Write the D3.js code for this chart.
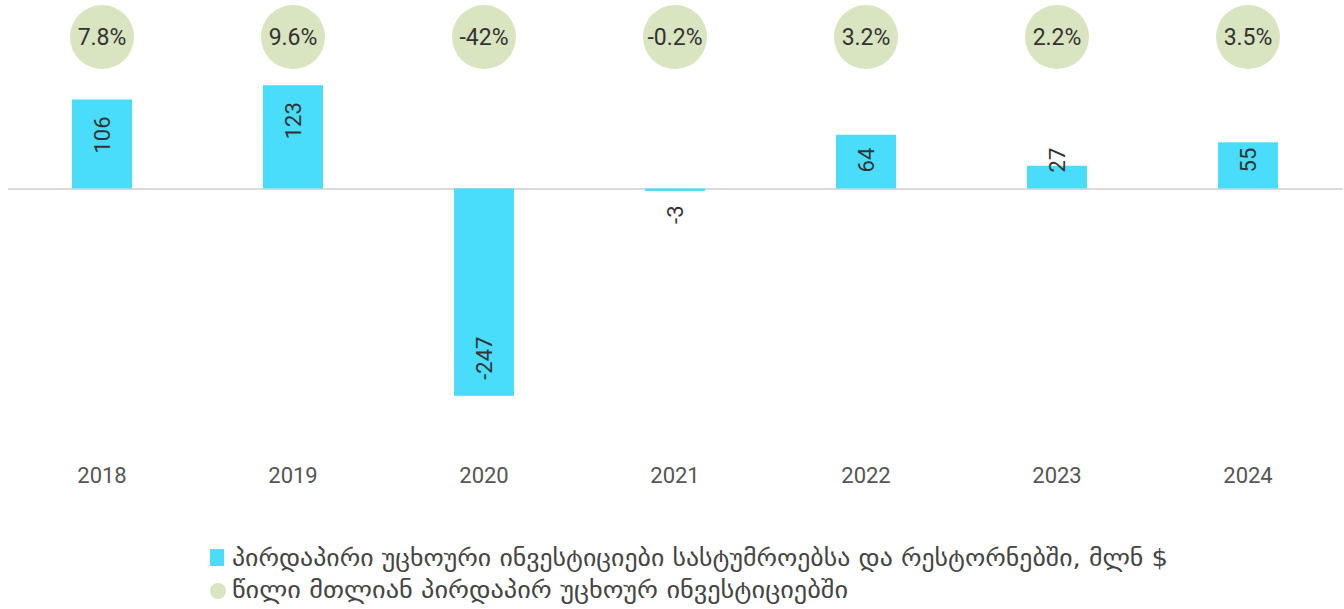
<!DOCTYPE html>
<html><head><meta charset="utf-8">
<script src="https://cdn.jsdelivr.net/npm/d3@7"></script>
<style>
html,body{margin:0;padding:0;background:#fff;}
svg{display:block;}
</style></head>
<body>
<svg id="c" width="1344" height="609"></svg>
<script>
const years = ["2018","2019","2020","2021","2022","2023","2024"];
const fdiValues = [106, 123, -247, -3, 64, 27, 55];
const shareLabels = ["7.8%","9.6%","-42%","-0.2%","3.2%","2.2%","3.5%"];
const legendLabels = [
  "პირდაპირი უცხოური ინვესტიციები სასტუმროებსა და რესტორნებში, მლნ $",
  "წილი მთლიან პირდაპირ უცხოურ ინვესტიციებში"
];

const svg = d3.select("#c");
const numFont = "Roboto, 'Noto Sans', sans-serif";
const geoFont = "'DejaVu Sans', sans-serif";
const barColor = "#4adcfb";
const bubbleColor = "#d9e4c0";

const x = d3.scaleBand().domain(years).range([6.5, 1343.5]);
const y = d3.scaleLinear().domain([-247, 123]).range([395.8, 85.2]);
const zero = y(0);
const bw = 60;

// zero line
svg.append("line").attr("x1", 8).attr("x2", 1343).attr("y1", zero + 0.5).attr("y2", zero + 0.5)
  .attr("stroke", "#d9d9d9").attr("stroke-width", 2);

// bars
svg.selectAll("rect.bar").data(fdiValues).enter().append("rect")
  .attr("class", "bar")
  .attr("x", (d, i) => x(years[i]) + x.bandwidth() / 2 - bw / 2)
  .attr("width", bw)
  .attr("y", d => Math.min(y(d), zero))
  .attr("height", d => Math.max(Math.abs(y(d) - zero), 2))
  .attr("fill", barColor);

// bar labels (rotated)
const labels = svg.selectAll("text.val").data(fdiValues).enter().append("text")
  .attr("class", "val")
  .attr("font-family", numFont).attr("font-size", 22).attr("fill", "#333")
  .attr("text-anchor", "middle").attr("dominant-baseline", "central")
  .text(d => d);
labels.each(function (d, i) {
  const len = this.getComputedTextLength();
  const cx = x(years[i]) + x.bandwidth() / 2;
  let cy;
  if (d >= 0) {
    cy = Math.min(y(d) + 17 + len / 2, zero - 16 - len / 2);
  } else {
    cy = Math.max(y(d) - 16 - len / 2, zero + 17 + len / 2);
  }
  d3.select(this).attr("transform", `translate(${cx},${cy}) rotate(-90)`);
});

// bubbles
const bub = svg.selectAll("g.bub").data(shareLabels).enter().append("g")
  .attr("transform", (d, i) => `translate(${x(years[i]) + x.bandwidth() / 2},37)`);
bub.append("circle").attr("r", 32).attr("fill", bubbleColor);
bub.append("text").attr("text-anchor", "middle").attr("dominant-baseline", "central")
  .attr("font-family", numFont).attr("font-size", 23).attr("fill", "#333")
  .text(d => d);

// x axis labels
const xAxis = d3.axisBottom(x).tickSize(0).tickPadding(0);
const gx = svg.append("g").attr("transform", "translate(0,467)").call(xAxis);
gx.select(".domain").remove();
gx.selectAll("text").attr("font-family", numFont).attr("font-size", 22).attr("fill", "#555");

// legend
const lg = svg.append("g");
lg.append("rect").attr("x", 210).attr("y", 549).attr("width", 14).attr("height", 17).attr("fill", barColor);
lg.append("circle").attr("cx", 218).attr("cy", 591).attr("r", 8).attr("fill", bubbleColor);
const legendWidths = [936, 616];
lg.selectAll("text").data(legendLabels).enter().append("text")
  .attr("x", 232).attr("y", (d, i) => 566 + i * 32)
  .attr("font-family", geoFont).attr("font-size", 23).attr("fill", "#444")
  .attr("textLength", (d, i) => legendWidths[i]).attr("lengthAdjust", "spacingAndGlyphs")
  .text(d => d);
</script>
</body></html>
